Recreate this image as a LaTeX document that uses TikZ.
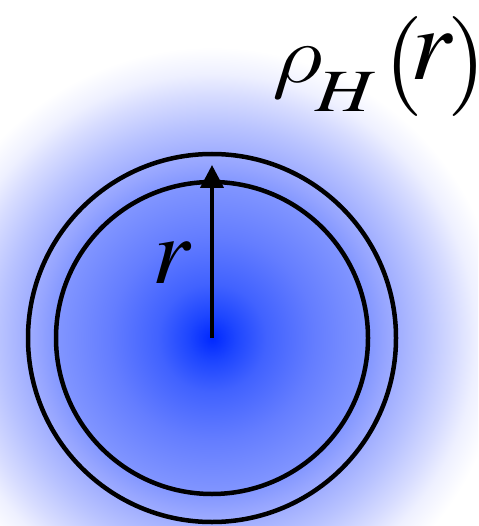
\documentclass[tikz,border=0pt]{standalone}
\usepackage{mathptmx}
\DeclareSymbolFont{cmletters}{OML}{cmm}{m}{it}
\DeclareMathSymbol{\cmrho}{\mathord}{cmletters}{"1A}
\usetikzlibrary{arrows.meta}
\definecolor{g0}{RGB}{0,40,255}
\definecolor{g1}{RGB}{30,70,255}
\definecolor{g2}{RGB}{65,98,255}
\definecolor{g3}{RGB}{100,125,255}
\definecolor{g4}{RGB}{130,150,255}
\definecolor{g5}{RGB}{150,165,255}
\definecolor{g6}{RGB}{185,195,255}
\definecolor{g7}{RGB}{215,220,255}
\definecolor{g8}{RGB}{238,240,255}
\pgfdeclareradialshading{glow}{\pgfpoint{0bp}{0bp}}{%
  color(0bp)=(g0); color(2bp)=(g1); color(4.5bp)=(g2); color(8.5bp)=(g3);
  color(13bp)=(g4); color(14.5bp)=(g5); color(17.75bp)=(g6); color(20.25bp)=(g7);
  color(22bp)=(g8); color(24.25bp)=(white); color(50bp)=(white)}
\tikzset{
  ring/.style={draw=black, line width=4.5pt},
  radius arrow/.style={draw=black, line width=4pt, -{Triangle[width=23pt,length=23pt]}},
  label text/.style={inner sep=0pt, outer sep=0pt}
}
\newcommand{\putat}[3]{\rlap{\hspace*{#1}\raisebox{#2}{#3}}}
\begin{document}
\begin{tikzpicture}[x=1pt,y=-1pt]
\useasboundingbox (0,0) rectangle (478,526);
\fill[white] (0,0) rectangle (478,526);
\coordinate (c) at (212,338);
\coordinate (tip) at (212,165);
\begin{scope}
\clip (0,0) rectangle (478,526);
\shade[shading=glow] (c) circle[radius=300pt];
\end{scope}
\draw[ring] (c) circle[radius=184pt];
\draw[ring] (c) circle[radius=156pt];
\draw[radius arrow] (c) -- (tip);
\node[label text, anchor=base west] (rl) at (152,283) {\fontsize{95}{95}\selectfont$r$};
\node[label text, anchor=base west] (rho) at (272,92) {%
  \putat{0pt}{9pt}{\Huge\scalebox{4.0}[3.3]{$\cmrho$}}%
  \putat{43pt}{-20pt}{\scalebox{1.3}[1]{\fontsize{60}{60}\selectfont$H$}}%
  \putat{112pt}{0pt}{\fontsize{100}{100}\selectfont$($}%
  \putat{138pt}{12pt}{\fontsize{104}{104}\selectfont$r$}%
  \putat{175pt}{0pt}{\fontsize{100}{100}\selectfont$)$}%
  \hspace*{198pt}};
\end{tikzpicture}
\end{document}
